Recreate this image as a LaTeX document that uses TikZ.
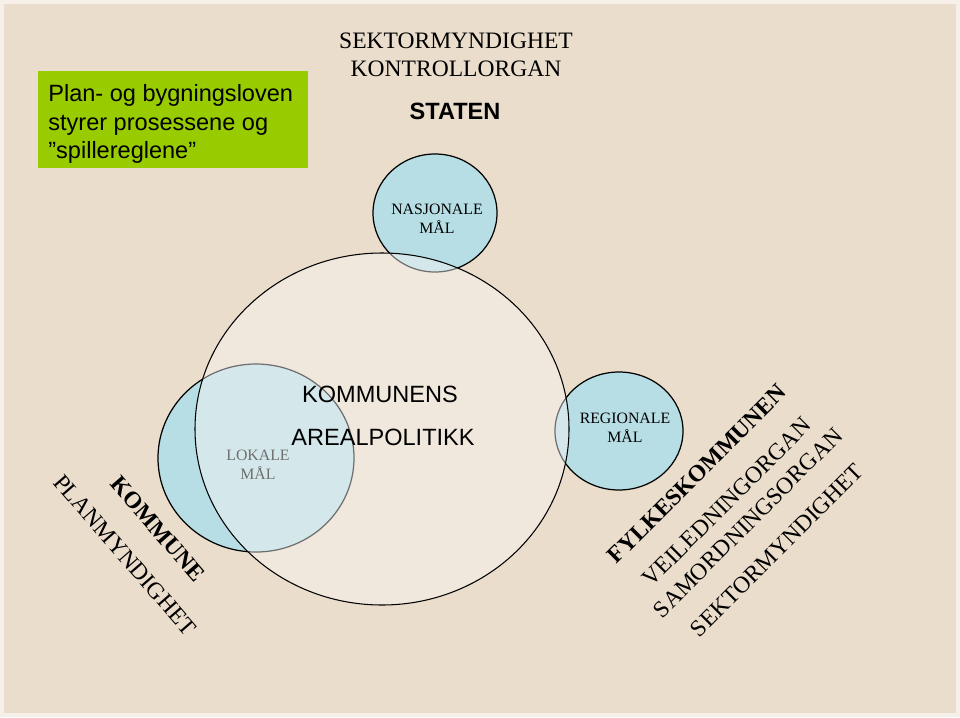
\documentclass[tikz,border=0pt]{standalone}
\usepackage{fontspec}
\setmainfont{Liberation Serif}
\setsansfont{Liberation Sans}
\usetikzlibrary{positioning}
\definecolor{paper}{RGB}{234,221,203}
\definecolor{paperedge}{RGB}{246,240,232}
\definecolor{lawgreen}{RGB}{153,204,0}
\definecolor{goalblue}{RGB}{183,222,228}
\definecolor{cream}{RGB}{248,246,244}

\begin{document}
\begin{tikzpicture}[x=0.02cm, y=-0.02cm,
    goal/.style={draw=black, line width=0.7pt, fill=goalblue},
    goaltext/.style={align=center, inner sep=0pt, font=\fontsize{9}{10.8}\selectfont},
    role/.style={inner sep=0pt, font=\fontsize{13.4}{16}\selectfont},
    actor/.style={inner sep=0pt, font=\fontsize{13.4}{16}\selectfont\bfseries},
    headline/.style={inner sep=0pt, font=\sffamily\fontsize{13.4}{16.2}\selectfont}]

  % bakgrunn
  \fill[paperedge] (0,0) rectangle (960,717);
  \fill[paper] (4,4) rectangle (956,713);

  % lovboksen
  \fill[lawgreen] (38,71) rectangle (308,168);
  \node[headline, anchor=west, align=left] (pbl) at (48,124)
    {Plan- og bygningsloven\\styrer prosessene og\\”spillereglene”};

  % staten
  \node[role] (sektor) at (456,41) {SEKTORMYNDIGHET};
  \node[role] (kontroll) at (456,69) {KONTROLLORGAN};
  \node[headline, font=\sffamily\bfseries\fontsize{13.4}{16}\selectfont] (staten) at (455,111) {STATEN};

  % maal
  \draw[goal] (435,213) ellipse [x radius=62, y radius=59];
  \draw[goal] (619,431) ellipse [x radius=64, y radius=59];
  \draw[goal] (256,458) ellipse [x radius=98, y radius=94];
  \node[goaltext] (nasjonal) at (437,219) {NASJONALE\\MÅL};
  \node[goaltext] (regional) at (625,428) {REGIONALE\\MÅL};
  \node[goaltext] (lokal) at (258,465) {LOKALE\\MÅL};

  % kommunens arealpolitikk
  \draw[black, line width=0.6pt, fill=cream, fill opacity=0.45] (382,429) ellipse [x radius=187, y radius=176];
  \node[headline] (kommunens) at (380,394) {KOMMUNENS};
  \node[headline] (arealpol) at (383,437) {AREALPOLITIKK};

  % aktoerer
  \node[actor, rotate=-49] (kommune) at (158,529) {KOMMUNE};
  \node[role, rotate=-49] (planmynd) at (125,555) {PLANMYNDIGHET};
  \node[actor, rotate=45] (fylke) at (697,474) {FYLKESKOMMUNEN};
  \node[role, rotate=45] (veiled) at (727,502) {VEILEDNINGORGAN};
  \node[role, rotate=45] (samord) at (748,523) {SAMORDNINGSORGAN};
  \node[role, rotate=45] (fylkesektor) at (777,550) {SEKTORMYNDIGHET};
\end{tikzpicture}
\end{document}
